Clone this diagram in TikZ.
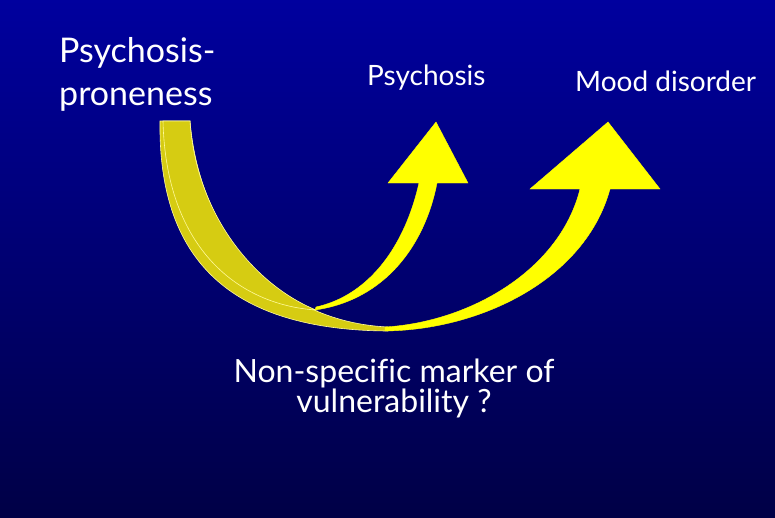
\documentclass[tikz,border=0pt]{standalone}
\usepackage{fontspec}
\setmainfont{Lato}[Ligatures={NoCommon}]
\usepackage{tikz}
\usetikzlibrary{positioning}
\definecolor{bgtop}{RGB}{0,0,158}
\definecolor{bgbot}{RGB}{0,0,70}
\definecolor{bandback}{RGB}{214,204,18}
\definecolor{bandfront}{RGB}{255,255,0}
\tikzset{
  lbl/.style={text=white, inner sep=0pt, align=left},
  lblbig/.style={lbl, font=\fontsize{34}{43}\selectfont},
  lblsmall/.style={lbl, font=\fontsize{28}{34}\selectfont},
  lblmid/.style={lbl, align=center, font=\fontsize{32}{30}\selectfont},
  back/.style={fill=bandback, draw=yellow!40!white, line width=0.6pt},
  front/.style={fill=bandfront, draw=bandfront, line width=0.4pt, line join=miter},
}
\begin{document}
\begin{tikzpicture}[x=1pt,y=-1pt]
  % background
  \shade[top color=bgtop, bottom color=bgbot] (0,0) rectangle (775,517);
  \useasboundingbox (0,0) rectangle (775,517);

  % labels
  \node[lblbig, anchor=base west] (prone) at (59,105) {Psychosis-\\proneness};
  \node[lblsmall, anchor=base west] (psy) at (367,85) {Psychosis};
  \node[lblsmall, anchor=base west] (mood) at (575,91) {Mood disorder};
  \node[lblmid, anchor=base] (marker) at (394,412) {Non-specific marker of\\vulnerability ?};

  % back part of the two curved arrows
  \draw[back] (160,121) .. controls (158,260) and (230,330) .. (388,331)
    -- (388,327) .. controls (280,322) and (200,240) .. (190,121) -- cycle;
  \draw[back] (163,121) .. controls (166,250) and (240,305) .. (316,310)
    .. controls (255,285) and (196,215) .. (190,121) -- cycle;

  % front part, to psychosis
  \draw[front] (315,310) .. controls (385,300) and (425,245) .. (437,183)
    -- (468,183) -- (436,122) -- (388,183) -- (419,183)
    .. controls (405,245) and (370,295) .. (316,307) -- cycle;

  % front part, to mood disorder
  \draw[front] (385,331) .. controls (480,330) and (585,280) .. (610,189)
    -- (660,189) -- (608,122) -- (530,189) -- (580,189)
    .. controls (560,270) and (470,322) .. (385,327) -- cycle;
\end{tikzpicture}
\end{document}
